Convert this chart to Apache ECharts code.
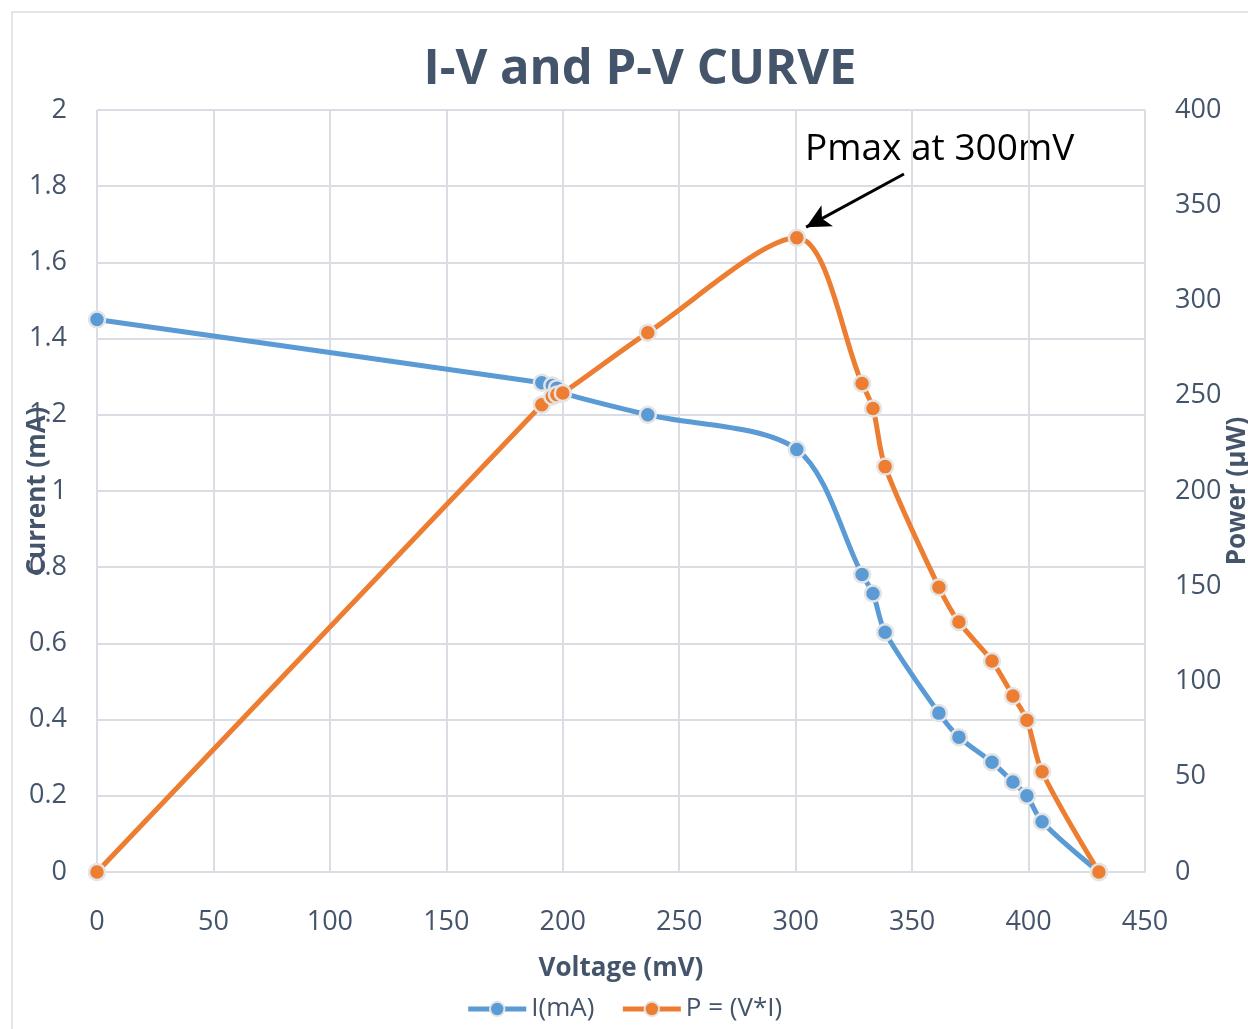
<!DOCTYPE html>
<html>
<head>
<meta charset="utf-8">
<script src="https://cdn.jsdelivr.net/npm/echarts@6/dist/echarts.min.js"></script>
<style>
  html, body { margin: 0; padding: 0; background: #fff; }
  #chart { width: 1248px; height: 1029px; }
</style>
</head>
<body>
<div id="chart"></div>
<script>
// voltage readings (mV)
const voltage = [0, 191, 195.5, 197.5, 200, 236.5, 300.5, 328.5, 333.2, 338.4, 361.5, 370.1, 384.3, 393.3, 399.3, 405.8, 430.2];
// current I (mA)
const current = [1.45, 1.284, 1.277, 1.27, 1.257, 1.2, 1.109, 0.781, 0.731, 0.629, 0.417, 0.354, 0.288, 0.236, 0.2, 0.132, 0];
// power P = V*I (uW)
const power = [0, 245.3, 249.6, 250.6, 251.4, 283.1, 332.9, 256.4, 243.3, 212.8, 149.5, 131.2, 110.8, 92.4, 79.7, 52.6, 0];

const xTicks = { min: 0, max: 450, interval: 50 };
const leftTicks = { min: 0, max: 2, interval: 0.2 };
const rightTicks = { min: 0, max: 400, interval: 50 };

const BLUE = '#5b9bd5';
const ORANGE = '#ed7d31';
const TXT = '#44546a';
const GRID = '#dadde3';
const FONT = '"Open Sans", "Noto Sans", sans-serif';

const iData = voltage.map((v, i) => [v, current[i]]);
const pData = voltage.map((v, i) => [v, power[i]]);

const chart = echarts.init(document.getElementById('chart'));

const markerStyle = (color) => ({
  color: color,
  borderColor: '#e4e4e4',
  borderWidth: 2.5
});

const axisName = { fontFamily: FONT, fontSize: 26, fontWeight: 'bold', color: TXT };
const tickLabel = { fontSize: 27, color: TXT, fontFamily: FONT };

chart.setOption({
  backgroundColor: '#fff',
  animation: false,
  textStyle: { fontFamily: FONT },
  title: {
    text: 'I-V and P-V CURVE',
    left: 635,
    textAlign: 'center',
    top: 41,
    textStyle: { fontFamily: FONT, fontSize: 49, fontWeight: 'bold', color: TXT }
  },
  grid: { left: 97, right: 103, top: 110, bottom: 157, outerBoundsMode: 'none', containLabel: false },
  legend: {
    bottom: 2,
    left: 'center',
    itemWidth: 58,
    itemHeight: 18,
    itemGap: 26,
    lineStyle: { width: 5 },
    textStyle: { fontFamily: FONT, fontSize: 26, color: TXT },
    data: ['I(mA)', 'P = (V*I)']
  },
  xAxis: {
    type: 'value',
    min: xTicks.min,
    max: xTicks.max,
    interval: xTicks.interval,
    name: 'Voltage (mV)',
    nameLocation: 'middle',
    nameGap: 84,
    nameMoveOverlap: false,
    nameTextStyle: axisName,
    axisLine: { lineStyle: { color: GRID, width: 2 } },
    axisTick: { show: false },
    axisLabel: Object.assign({ margin: 37 }, tickLabel),
    splitLine: { show: true, lineStyle: { color: GRID, width: 2 } }
  },
  yAxis: [
    {
      type: 'value',
      min: leftTicks.min,
      max: leftTicks.max,
      interval: leftTicks.interval,
      name: 'Current (mA)',
      nameLocation: 'middle',
      nameGap: 46,
      nameMoveOverlap: false,
      nameTextStyle: axisName,
      axisLine: { show: false },
      axisTick: { show: false },
      axisLabel: Object.assign({ margin: 30 }, tickLabel),
      splitLine: { show: true, lineStyle: { color: GRID, width: 2 } }
    },
    {
      type: 'value',
      min: rightTicks.min,
      max: rightTicks.max,
      interval: rightTicks.interval,
      name: 'Power (\u03bcW)',
      nameLocation: 'middle',
      nameGap: 80,
      nameMoveOverlap: false,
      nameTextStyle: axisName,
      axisLine: { show: false },
      axisTick: { show: false },
      axisLabel: Object.assign({ margin: 30 }, tickLabel),
      splitLine: { show: false }
    }
  ],
  series: [
    {
      name: 'I(mA)',
      type: 'line',
      yAxisIndex: 0,
      data: iData,
      smooth: 0.3,
      symbol: 'circle',
      symbolSize: 16,
      lineStyle: { color: BLUE, width: 5 },
      itemStyle: markerStyle(BLUE),
      z: 3
    },
    {
      name: 'P = (V*I)',
      type: 'line',
      yAxisIndex: 1,
      data: pData,
      smooth: 0.3,
      symbol: 'circle',
      symbolSize: 16,
      lineStyle: { color: ORANGE, width: 5 },
      itemStyle: markerStyle(ORANGE),
      z: 4,
      markLine: {
        silent: true,
        symbol: ['none', 'arrow'],
        symbolSize: [18, 24],
        label: { show: false },
        lineStyle: { color: '#000', width: 3, type: 'solid' },
        data: [[{ coord: [346.5, 366.4] }, { coord: [304.5, 338.5] }]]
      }
    }
  ],
  graphic: [
    {
      type: 'rect',
      shape: { x: 12, y: 12, width: 1260, height: 1040 },
      style: { fill: 'none', stroke: GRID, lineWidth: 1.5 },
      silent: true
    },
    {
      type: 'text',
      left: 805,
      top: 131,
      style: { text: 'Pmax at 300mV', fontFamily: FONT, fontSize: 37, fill: '#000' },
      silent: true
    }
  ]
});
</script>
</body>
</html>
